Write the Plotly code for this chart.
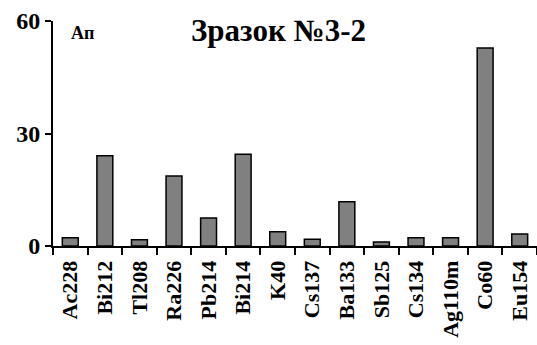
import plotly.graph_objects as go

categories = ["Ac228", "Bi212", "Tl208", "Ra226", "Pb214", "Bi214", "K40", "Cs137",
              "Ba133", "Sb125", "Cs134", "Ag110m", "Co60", "Eu154"]
values = [2.2, 24.1, 1.7, 18.7, 7.5, 24.5, 3.8, 1.8, 11.8, 1.1, 2.2, 2.2, 52.8, 3.2]
y_ticks = [0, 30, 60]

FONT = "Liberation Serif"

fig = go.Figure(go.Bar(
    x=categories, y=values,
    marker=dict(color="#808080", line=dict(color="black", width=1.5)),
))

fig.update_layout(
    width=537, height=345,
    margin=dict(l=53, r=0, t=21, b=99),
    paper_bgcolor="white", plot_bgcolor="white",
    bargap=0.54,
    showlegend=False,
    font=dict(family=FONT, color="black"),
)
fig.update_xaxes(
    type="category", showline=True, linecolor="black", linewidth=2,
    ticks="outside", tickson="boundaries", ticklen=7, tickwidth=2, tickcolor="black",
    tickangle=-90, tickfont=dict(family=FONT, size=22, color="black"),
    ticklabelstandoff=4,
    tickvals=categories, ticktext=[f"<b>{c}</b>" for c in categories],
    showgrid=False,
)
fig.update_yaxes(
    range=[0, 60], tickvals=y_ticks, ticktext=[f"<b>{v}</b>" for v in y_ticks],
    showline=True, linecolor="black", linewidth=2,
    ticks="outside", ticklen=6, tickwidth=2, tickcolor="black",
    tickfont=dict(family=FONT, size=24, color="black"),
    showgrid=False, zeroline=False,
)
fig.add_annotation(text="<b>Зразок №3-2</b>", xref="paper", yref="paper", x=0.466, y=0.96,
                   xanchor="center", yanchor="middle", showarrow=False,
                   font=dict(family=FONT, size=31, color="black"))
fig.add_annotation(text="<b>Ап</b>", xref="paper", yref="paper", x=0.033, y=0.947,
                   xanchor="left", yanchor="middle", showarrow=False,
                   font=dict(family=FONT, size=18, color="black"))

fig.write_html("out.html", config={"displayModeBar": False},
               post_script="document.body.style.margin='0';document.body.style.overflow='hidden';")
